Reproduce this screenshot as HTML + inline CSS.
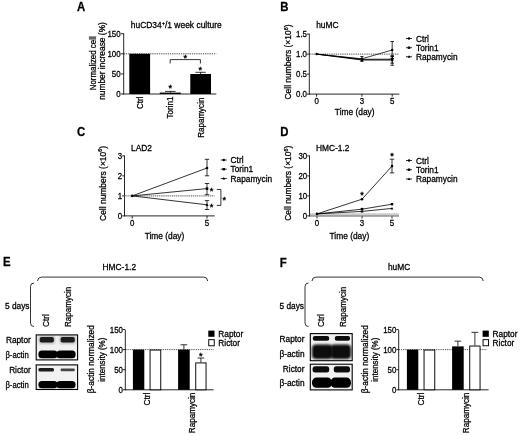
<!DOCTYPE html>
<html><head><meta charset="utf-8"><title>Figure</title>
<style>
html,body{margin:0;padding:0;background:#fff;}
body{width:520px;height:435px;overflow:hidden;}
svg{filter:blur(0.35px);display:block;font-family:"Liberation Sans",sans-serif;fill:#000;}
text{stroke:#000;stroke-width:0.27px;}
</style></head><body>
<svg width="520" height="435" viewBox="0 0 520 435">
<defs>
<filter id="b1" x="-20%" y="-50%" width="140%" height="200%"><feGaussianBlur stdDeviation="0.7"/></filter>
<filter id="b2" x="-20%" y="-50%" width="140%" height="200%"><feGaussianBlur stdDeviation="1"/></filter>
<filter id="b3" x="-30%" y="-60%" width="160%" height="220%"><feGaussianBlur stdDeviation="1.3"/></filter>
</defs>
<rect width="520" height="435" fill="#fff"/>
<text transform="translate(77 11.2) scale(0.94 1)" font-size="12.1" text-anchor="start" font-weight="bold">A</text>
<text x="130.8" y="28" font-size="8.45" text-anchor="start" font-weight="normal">huCD34<tspan font-size="5.5" dy="-3.2">+</tspan><tspan dy="3.2">/1 week culture</tspan></text>
<text transform="translate(95.6 63.3) rotate(-90) scale(0.94 1)" font-size="8.4" text-anchor="middle" font-weight="normal">Normalized cell</text>
<text transform="translate(105.4 61) rotate(-90)" font-size="8.4" text-anchor="middle" font-weight="normal">number increase (%)</text>
<line x1="123.7" y1="33.3" x2="123.7" y2="94.4" stroke="#000" stroke-width="0.85"/>
<line x1="123.3" y1="94.0" x2="216.3" y2="94.0" stroke="#000" stroke-width="0.85"/>
<line x1="121.0" y1="33.699999999999996" x2="123.7" y2="33.699999999999996" stroke="#000" stroke-width="0.85"/>
<text transform="translate(120.60000000000001 36.8) scale(0.92 1)" font-size="8.6" text-anchor="end" font-weight="normal">150</text>
<line x1="121.0" y1="53.8" x2="123.7" y2="53.8" stroke="#000" stroke-width="0.85"/>
<text transform="translate(120.60000000000001 56.9) scale(0.92 1)" font-size="8.6" text-anchor="end" font-weight="normal">100</text>
<line x1="121.0" y1="73.9" x2="123.7" y2="73.9" stroke="#000" stroke-width="0.85"/>
<text transform="translate(120.60000000000001 77.0) scale(0.92 1)" font-size="8.6" text-anchor="end" font-weight="normal">50</text>
<line x1="121.0" y1="94.0" x2="123.7" y2="94.0" stroke="#000" stroke-width="0.85"/>
<text transform="translate(120.60000000000001 97.1) scale(0.92 1)" font-size="8.6" text-anchor="end" font-weight="normal">0</text>
<line x1="123.7" y1="53.8" x2="216.3" y2="53.8" stroke="#000" stroke-width="0.7" stroke-dasharray="1.3 0.9"/>
<rect x="129.3" y="53.8" width="20.8" height="40.2" fill="#000" stroke="none" stroke-width="0.8"/>
<rect x="159.8" y="92.6" width="21.0" height="1.4000000000000057" fill="#000" stroke="none" stroke-width="0.8"/>
<line x1="170.3" y1="91.4" x2="170.3" y2="92.6" stroke="#000" stroke-width="0.8"/>
<line x1="165.0" y1="91.4" x2="175.60000000000002" y2="91.4" stroke="#000" stroke-width="0.8"/>
<rect x="190.3" y="74.0" width="20.7" height="20.0" fill="#000" stroke="none" stroke-width="0.8"/>
<line x1="200.6" y1="72.3" x2="200.6" y2="74.0" stroke="#000" stroke-width="0.8"/>
<line x1="195.4" y1="72.3" x2="205.79999999999998" y2="72.3" stroke="#000" stroke-width="0.8"/>
<text x="170.2" y="91.315" font-size="9.2" text-anchor="middle" font-weight="normal" style="stroke-width:0.4px">*</text>
<text x="200.2" y="73.215" font-size="9.2" text-anchor="middle" font-weight="normal" style="stroke-width:0.4px">*</text>
<polyline points="170.2,63.5 170.2,59.6 200.4,59.6 200.4,63.5" fill="none" stroke="#000" stroke-width="0.8"/>
<text x="185.2" y="60.714999999999996" font-size="9.2" text-anchor="middle" font-weight="normal" style="stroke-width:0.4px">*</text>
<text transform="translate(143.0 96.6) rotate(-90) scale(0.97 1)" font-size="8.3" text-anchor="end" font-weight="normal">Ctrl</text>
<text transform="translate(173.2 96.6) rotate(-90) scale(0.97 1)" font-size="8.3" text-anchor="end" font-weight="normal">Torin1</text>
<text transform="translate(204.1 97.6) rotate(-90) scale(0.97 1)" font-size="8.3" text-anchor="end" font-weight="normal">Rapamycin</text>
<text transform="translate(280.2 11.4) scale(0.94 1)" font-size="12.1" text-anchor="start" font-weight="bold">B</text>
<text x="316.2" y="28.2" font-size="8.4" text-anchor="start" font-weight="normal">huMC</text>
<text transform="translate(290.7 62) rotate(-90)" font-size="8.45" text-anchor="middle" font-weight="normal">Cell numbers (×10<tspan font-size="5.5" dy="-3.2">6</tspan><tspan dy="3.2">)</tspan></text>
<line x1="309.3" y1="33.699999999999996" x2="309.3" y2="94.5" stroke="#000" stroke-width="0.85"/>
<line x1="308.90000000000003" y1="94.1" x2="399.4" y2="94.1" stroke="#000" stroke-width="0.85"/>
<line x1="307.0" y1="34.099999999999994" x2="309.3" y2="34.099999999999994" stroke="#000" stroke-width="0.85"/>
<text transform="translate(307.0 37.199999999999996) scale(0.92 1)" font-size="8.6" text-anchor="end" font-weight="normal">1.5</text>
<line x1="307.0" y1="54.099999999999994" x2="309.3" y2="54.099999999999994" stroke="#000" stroke-width="0.85"/>
<text transform="translate(307.0 57.199999999999996) scale(0.92 1)" font-size="8.6" text-anchor="end" font-weight="normal">1.0</text>
<line x1="307.0" y1="74.1" x2="309.3" y2="74.1" stroke="#000" stroke-width="0.85"/>
<text transform="translate(307.0 77.19999999999999) scale(0.92 1)" font-size="8.6" text-anchor="end" font-weight="normal">0.5</text>
<line x1="307.0" y1="94.1" x2="309.3" y2="94.1" stroke="#000" stroke-width="0.85"/>
<text transform="translate(307.0 97.19999999999999) scale(0.92 1)" font-size="8.6" text-anchor="end" font-weight="normal">0.0</text>
<line x1="316.6" y1="94.1" x2="316.6" y2="96.69999999999999" stroke="#000" stroke-width="0.85"/>
<text transform="translate(316.6 104.0) scale(0.92 1)" font-size="8.6" text-anchor="middle" font-weight="normal">0</text>
<line x1="361.9" y1="94.1" x2="361.9" y2="96.69999999999999" stroke="#000" stroke-width="0.85"/>
<text transform="translate(361.9 104.0) scale(0.92 1)" font-size="8.6" text-anchor="middle" font-weight="normal">3</text>
<line x1="392.2" y1="94.1" x2="392.2" y2="96.69999999999999" stroke="#000" stroke-width="0.85"/>
<text transform="translate(392.2 104.0) scale(0.92 1)" font-size="8.6" text-anchor="middle" font-weight="normal">5</text>
<text x="354.7" y="114.8" font-size="8.4" text-anchor="middle" font-weight="normal">Time (day)</text>
<line x1="309.3" y1="54.099999999999994" x2="399" y2="54.099999999999994" stroke="#000" stroke-width="0.7" stroke-dasharray="1.3 0.9"/>
<polyline points="316.6,54.099999999999994 361.9,58.8 392.2,50" fill="none" stroke="#000" stroke-width="0.75"/>
<polyline points="316.6,54.099999999999994 361.9,59.3 392.2,59.2" fill="none" stroke="#000" stroke-width="0.9"/>
<polyline points="316.6,54.099999999999994 361.9,60.0 392.2,60.0" fill="none" stroke="#000" stroke-width="0.9"/>
<line x1="392.2" y1="41.5" x2="392.2" y2="58.5" stroke="#000" stroke-width="0.8"/>
<line x1="390.4" y1="41.5" x2="394.0" y2="41.5" stroke="#000" stroke-width="0.8"/>
<line x1="390.4" y1="58.5" x2="394.0" y2="58.5" stroke="#000" stroke-width="0.8"/>
<line x1="392.2" y1="55.7" x2="392.2" y2="63.2" stroke="#000" stroke-width="0.8"/>
<line x1="390.4" y1="55.7" x2="394.0" y2="55.7" stroke="#000" stroke-width="0.8"/>
<line x1="390.4" y1="63.2" x2="394.0" y2="63.2" stroke="#000" stroke-width="0.8"/>
<line x1="392.2" y1="56.5" x2="392.2" y2="65.3" stroke="#000" stroke-width="0.8"/>
<line x1="390.4" y1="56.5" x2="394.0" y2="56.5" stroke="#000" stroke-width="0.8"/>
<line x1="390.4" y1="65.3" x2="394.0" y2="65.3" stroke="#000" stroke-width="0.8"/>
<line x1="361.9" y1="56.5" x2="361.9" y2="61.5" stroke="#000" stroke-width="0.8"/>
<line x1="360.29999999999995" y1="56.5" x2="363.5" y2="56.5" stroke="#000" stroke-width="0.8"/>
<line x1="360.29999999999995" y1="61.5" x2="363.5" y2="61.5" stroke="#000" stroke-width="0.8"/>
<circle cx="316.6" cy="54.099999999999994" r="1.25" fill="#000"/>
<circle cx="361.9" cy="58.8" r="1.25" fill="#000"/>
<circle cx="392.2" cy="50" r="1.25" fill="#000"/>
<rect x="360.7" y="58.199999999999996" width="2.4" height="2.4" fill="#000" stroke="none" stroke-width="0.8"/>
<rect x="391.0" y="58.0" width="2.4" height="2.4" fill="#000" stroke="none" stroke-width="0.8"/>
<polygon points="361.9,58.6 363.29999999999995,61.12 360.5,61.12" fill="#000"/>
<polygon points="392.2,58.6 393.59999999999997,61.12 390.8,61.12" fill="#000"/>
<line x1="406.0" y1="38.5" x2="412.0" y2="38.5" stroke="#000" stroke-width="0.8"/>
<circle cx="409" cy="38.5" r="1.2" fill="#000"/>
<text x="416" y="41.5" font-size="8.3" text-anchor="start" font-weight="normal">Ctrl</text>
<line x1="406.0" y1="47.7" x2="412.0" y2="47.7" stroke="#000" stroke-width="0.8"/>
<rect x="407.8" y="46.5" width="2.4" height="2.4" fill="#000" stroke="none" stroke-width="0.8"/>
<text x="416" y="50.7" font-size="8.3" text-anchor="start" font-weight="normal">Torin1</text>
<line x1="406.0" y1="56.7" x2="412.0" y2="56.7" stroke="#000" stroke-width="0.8"/>
<polygon points="409,55.300000000000004 410.4,57.82 407.6,57.82" fill="#000"/>
<text x="416" y="59.7" font-size="8.3" text-anchor="start" font-weight="normal">Rapamycin</text>
<text transform="translate(77 136.2) scale(0.94 1)" font-size="12.1" text-anchor="start" font-weight="bold">C</text>
<text x="131" y="150.5" font-size="8.4" text-anchor="start" font-weight="normal">LAD2</text>
<text transform="translate(105.5 183.4) rotate(-90)" font-size="8.45" text-anchor="middle" font-weight="normal">Cell numbers (×10<tspan font-size="5.5" dy="-3.2">6</tspan><tspan dy="3.2">)</tspan></text>
<line x1="124.5" y1="155.5" x2="124.5" y2="216.3" stroke="#000" stroke-width="0.85"/>
<line x1="124.1" y1="215.9" x2="214.7" y2="215.9" stroke="#000" stroke-width="0.85"/>
<line x1="122.2" y1="155.9" x2="124.5" y2="155.9" stroke="#000" stroke-width="0.85"/>
<text transform="translate(122.2 159.0) scale(0.92 1)" font-size="8.6" text-anchor="end" font-weight="normal">3</text>
<line x1="122.2" y1="175.9" x2="124.5" y2="175.9" stroke="#000" stroke-width="0.85"/>
<text transform="translate(122.2 179.0) scale(0.92 1)" font-size="8.6" text-anchor="end" font-weight="normal">2</text>
<line x1="122.2" y1="195.9" x2="124.5" y2="195.9" stroke="#000" stroke-width="0.85"/>
<text transform="translate(122.2 199.0) scale(0.92 1)" font-size="8.6" text-anchor="end" font-weight="normal">1</text>
<line x1="122.2" y1="215.9" x2="124.5" y2="215.9" stroke="#000" stroke-width="0.85"/>
<text transform="translate(122.2 219.0) scale(0.92 1)" font-size="8.6" text-anchor="end" font-weight="normal">0</text>
<line x1="132.2" y1="215.9" x2="132.2" y2="218.5" stroke="#000" stroke-width="0.85"/>
<text transform="translate(132.2 225.8) scale(0.92 1)" font-size="8.6" text-anchor="middle" font-weight="normal">0</text>
<line x1="207" y1="215.9" x2="207" y2="218.5" stroke="#000" stroke-width="0.85"/>
<text transform="translate(207 225.8) scale(0.92 1)" font-size="8.6" text-anchor="middle" font-weight="normal">5</text>
<text x="164.5" y="238.7" font-size="8.4" text-anchor="middle" font-weight="normal">Time (day)</text>
<line x1="124.5" y1="195.9" x2="214.5" y2="195.9" stroke="#777" stroke-width="1.4" stroke-dasharray="1.2 0.7"/>
<polyline points="132.2,195.9 207,168" fill="none" stroke="#000" stroke-width="0.8"/>
<polyline points="132.2,195.9 207,188.6" fill="none" stroke="#000" stroke-width="0.8"/>
<polyline points="132.2,195.9 207,204.8" fill="none" stroke="#000" stroke-width="0.8"/>
<line x1="207" y1="159.3" x2="207" y2="175.8" stroke="#000" stroke-width="0.8"/>
<line x1="204.8" y1="159.3" x2="209.2" y2="159.3" stroke="#000" stroke-width="0.8"/>
<line x1="204.8" y1="175.8" x2="209.2" y2="175.8" stroke="#000" stroke-width="0.8"/>
<line x1="207" y1="183.5" x2="207" y2="194.7" stroke="#000" stroke-width="0.8"/>
<line x1="204.8" y1="183.5" x2="209.2" y2="183.5" stroke="#000" stroke-width="0.8"/>
<line x1="204.8" y1="194.7" x2="209.2" y2="194.7" stroke="#000" stroke-width="0.8"/>
<line x1="207" y1="200.6" x2="207" y2="209.5" stroke="#000" stroke-width="0.8"/>
<line x1="204.8" y1="200.6" x2="209.2" y2="200.6" stroke="#000" stroke-width="0.8"/>
<line x1="204.8" y1="209.5" x2="209.2" y2="209.5" stroke="#000" stroke-width="0.8"/>
<circle cx="132.2" cy="195.9" r="1.3" fill="#000"/>
<circle cx="207" cy="168" r="1.3" fill="#000"/>
<rect x="205.7" y="187.29999999999998" width="2.6" height="2.6" fill="#000" stroke="none" stroke-width="0.8"/>
<polygon points="207,203.3 208.5,206.0 205.5,206.0" fill="#000"/>
<text x="211.6" y="193.51500000000001" font-size="9.2" text-anchor="middle" font-weight="normal" style="stroke-width:0.4px">*</text>
<text x="211.6" y="210.115" font-size="9.2" text-anchor="middle" font-weight="normal" style="stroke-width:0.4px">*</text>
<polyline points="216.8,189.5 220.9,189.5 220.9,205.4 216.8,205.4" fill="none" stroke="#000" stroke-width="0.8"/>
<text x="224.3" y="202.51500000000001" font-size="9.2" text-anchor="middle" font-weight="normal" style="stroke-width:0.4px">*</text>
<line x1="220.8" y1="160" x2="226.8" y2="160" stroke="#000" stroke-width="0.8"/>
<circle cx="223.8" cy="160" r="1.2" fill="#000"/>
<text x="230.6" y="163" font-size="8.3" text-anchor="start" font-weight="normal">Ctrl</text>
<line x1="220.8" y1="169.2" x2="226.8" y2="169.2" stroke="#000" stroke-width="0.8"/>
<rect x="222.60000000000002" y="168.0" width="2.4" height="2.4" fill="#000" stroke="none" stroke-width="0.8"/>
<text x="230.6" y="172.2" font-size="8.3" text-anchor="start" font-weight="normal">Torin1</text>
<line x1="220.8" y1="178.5" x2="226.8" y2="178.5" stroke="#000" stroke-width="0.8"/>
<polygon points="223.8,177.1 225.20000000000002,179.62 222.4,179.62" fill="#000"/>
<text x="230.6" y="181.5" font-size="8.3" text-anchor="start" font-weight="normal">Rapamycin</text>
<text transform="translate(280.2 135.7) scale(0.94 1)" font-size="12.1" text-anchor="start" font-weight="bold">D</text>
<text x="316" y="150.5" font-size="8.4" text-anchor="start" font-weight="normal">HMC-1.2</text>
<text transform="translate(291.1 183.2) rotate(-90)" font-size="8.45" text-anchor="middle" font-weight="normal">Cell numbers (×10<tspan font-size="5.5" dy="-3.2">6</tspan><tspan dy="3.2">)</tspan></text>
<line x1="309.5" y1="155.5" x2="309.5" y2="216.3" stroke="#000" stroke-width="0.85"/>
<line x1="309.1" y1="215.9" x2="399" y2="215.9" stroke="#000" stroke-width="0.85"/>
<line x1="307.2" y1="155.9" x2="309.5" y2="155.9" stroke="#000" stroke-width="0.85"/>
<text transform="translate(307.2 159.0) scale(0.92 1)" font-size="8.6" text-anchor="end" font-weight="normal">30</text>
<line x1="307.2" y1="175.9" x2="309.5" y2="175.9" stroke="#000" stroke-width="0.85"/>
<text transform="translate(307.2 179.0) scale(0.92 1)" font-size="8.6" text-anchor="end" font-weight="normal">20</text>
<line x1="307.2" y1="195.9" x2="309.5" y2="195.9" stroke="#000" stroke-width="0.85"/>
<text transform="translate(307.2 199.0) scale(0.92 1)" font-size="8.6" text-anchor="end" font-weight="normal">10</text>
<line x1="307.2" y1="215.9" x2="309.5" y2="215.9" stroke="#000" stroke-width="0.85"/>
<text transform="translate(307.2 219.0) scale(0.92 1)" font-size="8.6" text-anchor="end" font-weight="normal">0</text>
<line x1="317" y1="215.9" x2="317" y2="218.5" stroke="#000" stroke-width="0.85"/>
<text transform="translate(317 225.8) scale(0.92 1)" font-size="8.6" text-anchor="middle" font-weight="normal">0</text>
<line x1="362" y1="215.9" x2="362" y2="218.5" stroke="#000" stroke-width="0.85"/>
<text transform="translate(362 225.8) scale(0.92 1)" font-size="8.6" text-anchor="middle" font-weight="normal">3</text>
<line x1="392" y1="215.9" x2="392" y2="218.5" stroke="#000" stroke-width="0.85"/>
<text transform="translate(392 225.8) scale(0.92 1)" font-size="8.6" text-anchor="middle" font-weight="normal">5</text>
<text x="349.4" y="238.7" font-size="8.4" text-anchor="middle" font-weight="normal">Time (day)</text>
<line x1="309.9" y1="214.8" x2="399" y2="214.8" stroke="#b4b4b4" stroke-width="3.2" stroke-dasharray="1.4 0.35" opacity="0.85"/>
<polyline points="317,213.9 362,199.2 392,166.1" fill="none" stroke="#000" stroke-width="0.8"/>
<polyline points="317,213.9 362,209.2 392,204.2" fill="none" stroke="#000" stroke-width="0.8"/>
<polyline points="317,213.9 362,211.4 392,208.4" fill="none" stroke="#000" stroke-width="0.8"/>
<line x1="392" y1="159.2" x2="392" y2="172.9" stroke="#000" stroke-width="0.8"/>
<line x1="389.8" y1="159.2" x2="394.2" y2="159.2" stroke="#000" stroke-width="0.8"/>
<line x1="389.8" y1="172.9" x2="394.2" y2="172.9" stroke="#000" stroke-width="0.8"/>
<circle cx="317" cy="213.9" r="1.3" fill="#000"/>
<circle cx="362" cy="199.2" r="1.3" fill="#000"/>
<circle cx="392" cy="166.1" r="1.3" fill="#000"/>
<rect x="360.7" y="207.89999999999998" width="2.6" height="2.6" fill="#000" stroke="none" stroke-width="0.8"/>
<rect x="390.8" y="203.0" width="2.4" height="2.4" fill="#000" stroke="none" stroke-width="0.8"/>
<polygon points="362,209.9 363.5,212.6 360.5,212.6" fill="#000"/>
<polygon points="392,207.0 393.4,209.52 390.6,209.52" fill="#000"/>
<text x="362" y="198.415" font-size="9.2" text-anchor="middle" font-weight="normal" style="stroke-width:0.4px">*</text>
<text x="392" y="158.915" font-size="9.2" text-anchor="middle" font-weight="normal" style="stroke-width:0.4px">*</text>
<line x1="406.0" y1="160.5" x2="412.0" y2="160.5" stroke="#000" stroke-width="0.8"/>
<circle cx="409" cy="160.5" r="1.2" fill="#000"/>
<text x="416" y="163.5" font-size="8.3" text-anchor="start" font-weight="normal">Ctrl</text>
<line x1="406.0" y1="169.7" x2="412.0" y2="169.7" stroke="#000" stroke-width="0.8"/>
<rect x="407.8" y="168.5" width="2.4" height="2.4" fill="#000" stroke="none" stroke-width="0.8"/>
<text x="416" y="172.7" font-size="8.3" text-anchor="start" font-weight="normal">Torin1</text>
<line x1="406.0" y1="179" x2="412.0" y2="179" stroke="#000" stroke-width="0.8"/>
<polygon points="409,177.6 410.4,180.12 407.6,180.12" fill="#000"/>
<text x="416" y="182" font-size="8.3" text-anchor="start" font-weight="normal">Rapamycin</text>
<text transform="translate(3 266.2) scale(0.94 1)" font-size="12.1" text-anchor="start" font-weight="bold">E</text>
<text x="119.3" y="270.2" font-size="8.4" text-anchor="middle" font-weight="normal">HMC-1.2</text>
<path d="M37.5,281 Q37.8,277.1 41.5,277.1 H203.7 Q207.39999999999998,277.1 207.7,281" fill="none" stroke="#000" stroke-width="0.8"/>
<path d="M34,283 Q30.5,283 30.5,286.5 V323 Q30.5,326.5 34,326.5" fill="none" stroke="#000" stroke-width="0.8"/>
<text x="5" y="308.5" font-size="8.3" text-anchor="start" font-weight="normal">5 days</text>
<text transform="translate(48.8 327) rotate(-90)" font-size="8.3" text-anchor="start" font-weight="normal">Ctrl</text>
<text transform="translate(70.5 327) rotate(-90) scale(0.97 1)" font-size="8.3" text-anchor="start" font-weight="normal">Rapamycin</text>
<clipPath id="cE1"><rect x="36.2" y="334.9" width="41.39999999999999" height="25.0"/></clipPath>
<rect x="36.2" y="334.9" width="41.39999999999999" height="25.0" fill="#f1f1f1" stroke="none" stroke-width="0.8"/>
<g clip-path="url(#cE1)">
<rect x="38.5" y="335.5" width="16.5" height="8.5" rx="2" fill="#bbb" filter="url(#b3)"/>
<rect x="59.5" y="335.5" width="16.5" height="8.5" rx="2" fill="#bbb" filter="url(#b3)"/>
<rect x="39.7" y="336.9" width="14.199999999999996" height="5.600000000000023" rx="2" fill="#1a1a1a" filter="url(#b1)"/>
<rect x="60.6" y="336.9" width="14.199999999999996" height="5.600000000000023" rx="2" fill="#1a1a1a" filter="url(#b1)"/>
<rect x="38.4" y="350.4" width="19.200000000000003" height="7.800000000000011" rx="3.5" fill="#000" filter="url(#b1)"/>
<rect x="56.4" y="350.4" width="19.199999999999996" height="7.800000000000011" rx="3.5" fill="#000" filter="url(#b1)"/>
</g>
<rect x="36.2" y="334.9" width="41.39999999999999" height="25.0" fill="none" stroke="#000" stroke-width="1.1"/>
<clipPath id="cE2"><rect x="36.2" y="364.9" width="41.39999999999999" height="24.600000000000023"/></clipPath>
<rect x="36.2" y="364.9" width="41.39999999999999" height="24.600000000000023" fill="#f1f1f1" stroke="none" stroke-width="0.8"/>
<g clip-path="url(#cE2)">
<rect x="38.4" y="368" width="15.600000000000001" height="3.6000000000000227" rx="1.5" fill="#1a1a1a" filter="url(#b1)"/>
<rect x="60.6" y="368.4" width="14.199999999999996" height="2.900000000000034" rx="1" fill="#444" filter="url(#b1)"/>
<rect x="38.4" y="381" width="19.200000000000003" height="7.199999999999989" rx="3.5" fill="#000" filter="url(#b1)"/>
<rect x="56.4" y="381" width="19.199999999999996" height="7.199999999999989" rx="3.5" fill="#000" filter="url(#b1)"/>
</g>
<rect x="36.2" y="364.9" width="41.39999999999999" height="24.600000000000023" fill="none" stroke="#000" stroke-width="1.1"/>
<text x="30.8" y="342.8" font-size="8.3" text-anchor="end" font-weight="normal">Raptor</text>
<text transform="translate(28.7 358.3) scale(0.93 1)" font-size="8.3" text-anchor="end" font-weight="normal">β-actin</text>
<text x="30.8" y="372.8" font-size="8.3" text-anchor="end" font-weight="normal">Rictor</text>
<text transform="translate(28.7 387.9) scale(0.93 1)" font-size="8.3" text-anchor="end" font-weight="normal">β-actin</text>
<text transform="translate(94.4 359.2) rotate(-90)" font-size="8.3" text-anchor="middle" font-weight="normal">β-actin normalized</text>
<text transform="translate(104.7 359.7) rotate(-90) scale(0.97 1)" font-size="8.3" text-anchor="middle" font-weight="normal">intensity (%)</text>
<line x1="125.3" y1="330" x2="125.3" y2="390.2" stroke="#000" stroke-width="0.85"/>
<line x1="124.89999999999999" y1="389.8" x2="213.7" y2="389.8" stroke="#000" stroke-width="0.85"/>
<line x1="123.0" y1="329.5" x2="125.3" y2="329.5" stroke="#000" stroke-width="0.85"/>
<text transform="translate(123.0 332.6) scale(0.92 1)" font-size="8.6" text-anchor="end" font-weight="normal">150</text>
<line x1="123.0" y1="349.6" x2="125.3" y2="349.6" stroke="#000" stroke-width="0.85"/>
<text transform="translate(123.0 352.70000000000005) scale(0.92 1)" font-size="8.6" text-anchor="end" font-weight="normal">100</text>
<line x1="123.0" y1="369.7" x2="125.3" y2="369.7" stroke="#000" stroke-width="0.85"/>
<text transform="translate(123.0 372.8) scale(0.92 1)" font-size="8.6" text-anchor="end" font-weight="normal">50</text>
<line x1="123.0" y1="389.8" x2="125.3" y2="389.8" stroke="#000" stroke-width="0.85"/>
<text transform="translate(123.0 392.90000000000003) scale(0.92 1)" font-size="8.6" text-anchor="end" font-weight="normal">0</text>
<line x1="125.3" y1="349.6" x2="213.7" y2="349.6" stroke="#000" stroke-width="0.7" stroke-dasharray="1.2 1"/>
<rect x="132.9" y="349.6" width="11.400000000000006" height="40.19999999999999" fill="#000" stroke="none" stroke-width="0.8"/>
<rect x="150.04999999999998" y="350.05" width="10.699999999999994" height="39.749999999999986" fill="#fff" stroke="#000" stroke-width="0.95"/>
<line x1="183.89999999999998" y1="344.776" x2="183.89999999999998" y2="349.6" stroke="#000" stroke-width="0.8"/>
<line x1="180.49999999999997" y1="344.776" x2="187.29999999999998" y2="344.776" stroke="#000" stroke-width="0.8"/>
<rect x="178.1" y="349.6" width="11.599999999999994" height="40.19999999999999" fill="#000" stroke="none" stroke-width="0.8"/>
<line x1="200.9" y1="358.04200000000003" x2="200.9" y2="362.464" stroke="#000" stroke-width="0.8"/>
<line x1="197.5" y1="358.04200000000003" x2="204.3" y2="358.04200000000003" stroke="#000" stroke-width="0.8"/>
<rect x="195.75" y="362.914" width="10.299999999999988" height="26.886000000000013" fill="#fff" stroke="#000" stroke-width="0.95"/>
<text x="200.7" y="359.015" font-size="9.2" text-anchor="middle" font-weight="normal" style="stroke-width:0.4px">*</text>
<text transform="translate(150 392.7) rotate(-90)" font-size="8.3" text-anchor="end" font-weight="normal">Ctrl</text>
<text transform="translate(194.6 392.7) rotate(-90) scale(0.975 1)" font-size="8.3" text-anchor="end" font-weight="normal">Rapamycin</text>
<rect x="208.3" y="330.6" width="6.2" height="6.2" fill="#000" stroke="none" stroke-width="0.8"/>
<rect x="208.75" y="339.65" width="5.5" height="6.1" fill="#fff" stroke="#000" stroke-width="0.95"/>
<text x="218.3" y="336.8" font-size="8.3" text-anchor="start" font-weight="normal">Raptor</text>
<text x="218.3" y="345.8" font-size="8.3" text-anchor="start" font-weight="normal">Rictor</text>
<text transform="translate(279.7 267.3) scale(0.94 1)" font-size="12.1" text-anchor="start" font-weight="bold">F</text>
<text x="399.1" y="270.2" font-size="8.4" text-anchor="middle" font-weight="normal">huMC</text>
<path d="M312.0,281 Q312.3,277.1 316.0,277.1 H479.2 Q482.9,277.1 483.2,281" fill="none" stroke="#000" stroke-width="0.8"/>
<path d="M308.5,283 Q305.0,283 305.0,286.5 V323 Q305.0,326.5 308.5,326.5" fill="none" stroke="#000" stroke-width="0.8"/>
<text x="279.5" y="308.5" font-size="8.3" text-anchor="start" font-weight="normal">5 days</text>
<text transform="translate(324.0 327) rotate(-90)" font-size="8.3" text-anchor="start" font-weight="normal">Ctrl</text>
<text transform="translate(345.7 327) rotate(-90) scale(0.97 1)" font-size="8.3" text-anchor="start" font-weight="normal">Rapamycin</text>
<clipPath id="cF1"><rect x="310.3" y="333.6" width="41.89999999999998" height="27.099999999999966"/></clipPath>
<rect x="310.3" y="333.6" width="41.89999999999998" height="27.099999999999966" fill="#f1f1f1" stroke="none" stroke-width="0.8"/>
<g clip-path="url(#cF1)">
<rect x="312.8" y="335.9" width="16.399999999999977" height="4.900000000000034" rx="2" fill="#111" filter="url(#b1)"/>
<rect x="334.8" y="335.9" width="15.199999999999989" height="4.900000000000034" rx="2" fill="#111" filter="url(#b1)"/>
<rect x="312" y="344.4" width="20.5" height="14.600000000000023" rx="4" fill="#0a0a0a" filter="url(#b2)"/>
<rect x="330.5" y="344.4" width="20.5" height="14.600000000000023" rx="4" fill="#0a0a0a" filter="url(#b2)"/>
</g>
<rect x="310.3" y="333.6" width="41.89999999999998" height="27.099999999999966" fill="none" stroke="#000" stroke-width="1.1"/>
<clipPath id="cF2"><rect x="310.3" y="364.2" width="41.89999999999998" height="25.69999999999999"/></clipPath>
<rect x="310.3" y="364.2" width="41.89999999999998" height="25.69999999999999" fill="#f1f1f1" stroke="none" stroke-width="0.8"/>
<g clip-path="url(#cF2)">
<rect x="312.6" y="366.2" width="16.599999999999966" height="6.400000000000034" rx="2.5" fill="#111" filter="url(#b1)"/>
<rect x="333.8" y="366.2" width="16.19999999999999" height="6.400000000000034" rx="2.5" fill="#111" filter="url(#b1)"/>
<rect x="312" y="377.6" width="20" height="10.199999999999989" rx="4.5" fill="#000" filter="url(#b1)"/>
<rect x="330.5" y="377.6" width="20.5" height="10.199999999999989" rx="4.5" fill="#000" filter="url(#b1)"/>
</g>
<rect x="310.3" y="364.2" width="41.89999999999998" height="25.69999999999999" fill="none" stroke="#000" stroke-width="1.1"/>
<text x="304.5" y="341.7" font-size="8.3" text-anchor="end" font-weight="normal">Raptor</text>
<text x="304.5" y="356.6" font-size="8.3" text-anchor="end" font-weight="normal">β-actin</text>
<text x="304.5" y="372" font-size="8.3" text-anchor="end" font-weight="normal">Rictor</text>
<text x="304.5" y="385.8" font-size="8.3" text-anchor="end" font-weight="normal">β-actin</text>
<text transform="translate(367.79999999999995 359.2) rotate(-90)" font-size="8.3" text-anchor="middle" font-weight="normal">β-actin normalized</text>
<text transform="translate(378.09999999999997 359.7) rotate(-90) scale(0.97 1)" font-size="8.3" text-anchor="middle" font-weight="normal">intensity (%)</text>
<line x1="398.7" y1="330" x2="398.7" y2="390.2" stroke="#000" stroke-width="0.85"/>
<line x1="398.3" y1="389.8" x2="488.59999999999997" y2="389.8" stroke="#000" stroke-width="0.85"/>
<line x1="396.4" y1="329.5" x2="398.7" y2="329.5" stroke="#000" stroke-width="0.85"/>
<text transform="translate(396.4 332.6) scale(0.92 1)" font-size="8.6" text-anchor="end" font-weight="normal">150</text>
<line x1="396.4" y1="349.6" x2="398.7" y2="349.6" stroke="#000" stroke-width="0.85"/>
<text transform="translate(396.4 352.70000000000005) scale(0.92 1)" font-size="8.6" text-anchor="end" font-weight="normal">100</text>
<line x1="396.4" y1="369.7" x2="398.7" y2="369.7" stroke="#000" stroke-width="0.85"/>
<text transform="translate(396.4 372.8) scale(0.92 1)" font-size="8.6" text-anchor="end" font-weight="normal">50</text>
<line x1="396.4" y1="389.8" x2="398.7" y2="389.8" stroke="#000" stroke-width="0.85"/>
<text transform="translate(396.4 392.90000000000003) scale(0.92 1)" font-size="8.6" text-anchor="end" font-weight="normal">0</text>
<line x1="398.7" y1="349.6" x2="487.09999999999997" y2="349.6" stroke="#000" stroke-width="0.7" stroke-dasharray="1.2 1"/>
<rect x="406.9" y="349.6" width="11.400000000000034" height="40.19999999999999" fill="#000" stroke="none" stroke-width="0.8"/>
<rect x="424.05" y="350.05" width="10.699999999999966" height="39.749999999999986" fill="#fff" stroke="#000" stroke-width="0.95"/>
<line x1="457.9" y1="341.158" x2="457.9" y2="346.384" stroke="#000" stroke-width="0.8"/>
<line x1="454.5" y1="341.158" x2="461.29999999999995" y2="341.158" stroke="#000" stroke-width="0.8"/>
<rect x="452.1" y="346.384" width="11.599999999999966" height="43.416" fill="#000" stroke="none" stroke-width="0.8"/>
<line x1="474.9" y1="332.314" x2="474.9" y2="345.58" stroke="#000" stroke-width="0.8"/>
<line x1="471.5" y1="332.314" x2="478.29999999999995" y2="332.314" stroke="#000" stroke-width="0.8"/>
<rect x="469.75" y="346.03" width="10.299999999999988" height="43.770000000000024" fill="#fff" stroke="#000" stroke-width="0.95"/>
<text transform="translate(423.9 392.7) rotate(-90)" font-size="8.3" text-anchor="end" font-weight="normal">Ctrl</text>
<text transform="translate(468.5 392.7) rotate(-90) scale(0.975 1)" font-size="8.3" text-anchor="end" font-weight="normal">Rapamycin</text>
<rect x="482.59999999999997" y="330.6" width="6.2" height="6.2" fill="#000" stroke="none" stroke-width="0.8"/>
<rect x="483.04999999999995" y="339.65" width="5.5" height="6.1" fill="#fff" stroke="#000" stroke-width="0.95"/>
<text x="492.59999999999997" y="336.8" font-size="8.3" text-anchor="start" font-weight="normal">Raptor</text>
<text x="492.59999999999997" y="345.8" font-size="8.3" text-anchor="start" font-weight="normal">Rictor</text>
</svg>
</body></html>
